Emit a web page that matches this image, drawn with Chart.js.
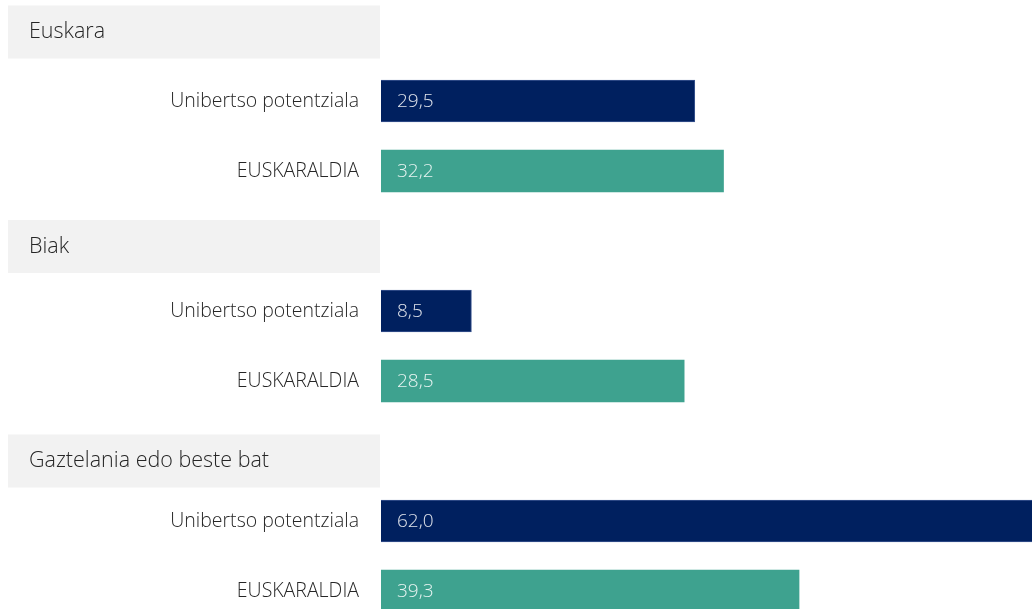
<!DOCTYPE html>
<html>
<head>
<meta charset="utf-8">
<script src="https://cdn.jsdelivr.net/npm/chart.js@4/dist/chart.umd.min.js"></script>
<style>
  html, body { margin: 0; padding: 0; background: #ffffff; overflow: hidden; width: 1032px; height: 609px; }
  #wrap { position: absolute; left: 0; top: -4px; width: 1032px; height: 630px; }
</style>
</head>
<body>
<div id="wrap"><canvas id="c" width="1032" height="630"></canvas></div>
<script>
const groups = ['Euskara', 'Biak', 'Gaztelania edo beste bat'];
const seriesNames = ['Unibertso potentziala', 'EUSKARALDIA'];
const unibertso = [29.5, 8.5, 62.0];
const euskaraldia = [32.2, 28.5, 39.3];
const seriesColors = ['#00205F', '#3EA28F'];
const seriesBorders = ['#3A5590', '#3EA28F'];

// Build rows: header, series 1, series 2 per group
const labels = [];
const isHeader = [];
const dataU = [];
const dataE = [];
groups.forEach((g, i) => {
  labels.push(g); isHeader.push(true); dataU.push(null); dataE.push(null);
  labels.push(seriesNames[0]); isHeader.push(false); dataU.push(unibertso[i]); dataE.push(null);
  labels.push(seriesNames[1]); isHeader.push(false); dataU.push(null); dataE.push(euskaraldia[i]);
});

const FONT = '"Open Sans", "Segoe UI", sans-serif';

const headerPlugin = {
  id: 'headers',
  beforeDatasetsDraw(chart) {
    const ctx = chart.ctx;
    const y = chart.scales.y;
    ctx.save();
    let g = 0;
    labels.forEach((lab, i) => {
      if (!isHeader[i]) return;
      const cy = y.getPixelForValue(i) + 1 + g * 4.5;
      g++;
      ctx.fillStyle = '#F2F2F2';
      ctx.fillRect(8, cy - 26.5, 372, 53);
      ctx.fillStyle = '#262626';
      ctx.font = '300 21.5px ' + FONT;
      ctx.textAlign = 'left';
      ctx.textBaseline = 'middle';
      ctx.fillText(lab, 29, cy);
    });
    ctx.restore();
  },
  afterDatasetsDraw(chart) {
    const ctx = chart.ctx;
    ctx.save();
    ctx.font = '300 19px ' + FONT;
    ctx.textAlign = 'left';
    ctx.textBaseline = 'middle';
    chart.data.datasets.forEach((ds, di) => {
      const meta = chart.getDatasetMeta(di);
      meta.data.forEach((bar, j) => {
        const v = ds.data[j];
        if (v === null || v === undefined) return;
        ctx.fillStyle = 'rgba(255,255,255,0.88)';
        ctx.fillText(v.toFixed(1).replace('.', ','), bar.base + 16, bar.y + 1);
      });
    });
    ctx.restore();
  }
};

new Chart(document.getElementById('c'), {
  type: 'bar',
  data: {
    labels: labels,
    datasets: [
      { label: seriesNames[0], data: dataU, backgroundColor: seriesColors[0], borderColor: seriesBorders[0], borderWidth: 1, grouped: false, barThickness: 42 },
      { label: seriesNames[1], data: dataE, backgroundColor: seriesColors[1], borderColor: seriesBorders[1], borderWidth: 0, grouped: false, barThickness: 42 }
    ]
  },
  options: {
    indexAxis: 'y',
    responsive: false,
    animation: false,
    devicePixelRatio: 1,
    layout: { padding: 0 },
    plugins: { legend: { display: false }, tooltip: { enabled: false } },
    scales: {
      x: { display: false, min: 0, max: 61.2 },
      y: {
        grid: { display: false, drawTicks: false },
        border: { display: false },
        afterFit(scale) { scale.width = 381; scale.paddingTop = 0; scale.paddingBottom = 0; },
        ticks: {
          padding: 22,
          color: '#262626',
          font: { family: FONT, size: 19.5, weight: '300' },
          callback: function(v, i) { return isHeader[i] ? '' : labels[i]; }
        }
      }
    }
  },
  plugins: [headerPlugin]
});
</script>
</body>
</html>
